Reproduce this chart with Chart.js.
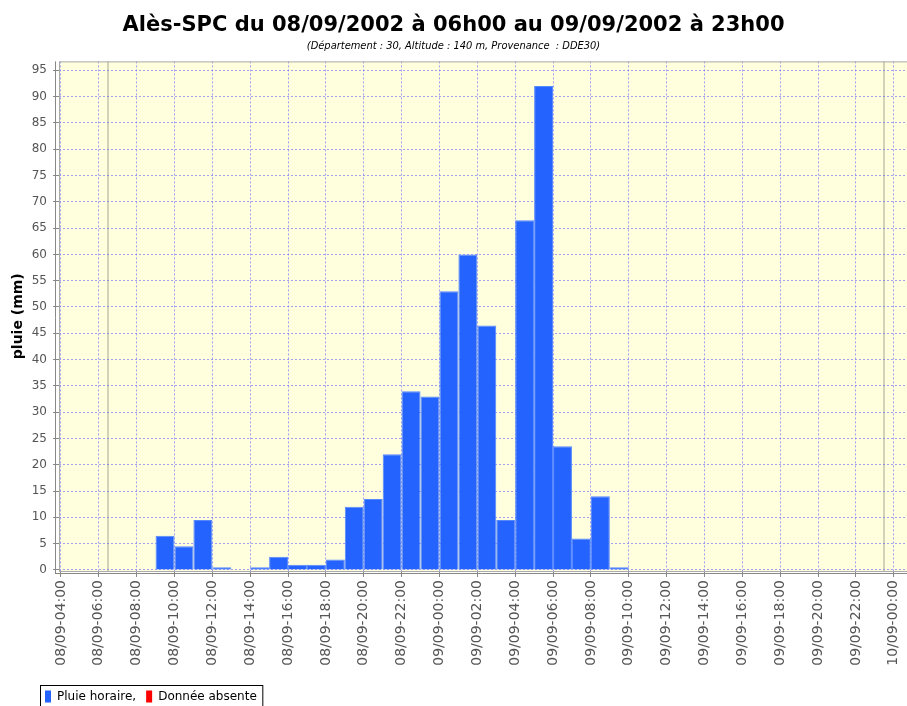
<!DOCTYPE html>
<html lang="fr">
<head>
<meta charset="utf-8">
<title>Pluie horaire Alès-SPC</title>
<script src="https://cdn.jsdelivr.net/npm/chart.js@4/dist/chart.umd.min.js"></script>
<style>
  html, body { margin: 0; padding: 0; background: #fff; }
  #wrap { width: 907px; height: 706px; position: relative; }
</style>
</head>
<body>
<div id="wrap"><canvas id="rainChart"></canvas></div>
<script>
// hourly rain, one bar per hour (start of the hour)
const hourLabels = [
  '08/09-06:00', '08/09-07:00', '08/09-08:00', '08/09-09:00', '08/09-10:00', '08/09-11:00',
  '08/09-12:00', '08/09-13:00', '08/09-14:00', '08/09-15:00', '08/09-16:00', '08/09-17:00',
  '08/09-18:00', '08/09-19:00', '08/09-20:00', '08/09-21:00', '08/09-22:00', '08/09-23:00',
  '09/09-00:00', '09/09-01:00', '09/09-02:00', '09/09-03:00', '09/09-04:00', '09/09-05:00',
  '09/09-06:00', '09/09-07:00', '09/09-08:00', '09/09-09:00', '09/09-10:00', '09/09-11:00',
  '09/09-12:00', '09/09-13:00', '09/09-14:00', '09/09-15:00', '09/09-16:00', '09/09-17:00',
  '09/09-18:00', '09/09-19:00', '09/09-20:00', '09/09-21:00', '09/09-22:00', '09/09-23:00'
];
const rainValues = [
  0, 0, 0, 6.5, 4.5, 9.5,
  0.5, 0, 0.5, 2.5, 1, 1,
  2, 12, 13.5, 22, 34, 33,
  53, 60, 46.5, 9.5, 66.5, 92,
  23.5, 6, 14, 0.5, 0, 0,
  0, 0, 0, 0, 0, 0,
  0, 0, 0, 0, 0, 0
];
const missingValues = [];

const xTickLabels = [
  '08/09-04:00', '08/09-06:00', '08/09-08:00', '08/09-10:00', '08/09-12:00', '08/09-14:00',
  '08/09-16:00', '08/09-18:00', '08/09-20:00', '08/09-22:00', '09/09-00:00', '09/09-02:00',
  '09/09-04:00', '09/09-06:00', '09/09-08:00', '09/09-10:00', '09/09-12:00', '09/09-14:00',
  '09/09-16:00', '09/09-18:00', '09/09-20:00', '09/09-22:00', '10/09-00:00'
];
const yTickValues = [0, 5, 10, 15, 20, 25, 30, 35, 40, 45, 50, 55, 60, 65, 70, 75, 80, 85, 90, 95];

// "dd/mm-HH:00" -> hours since 08/09 00:00
function toHours(label) {
  const [date, time] = label.split('-');
  const day = parseInt(date.slice(0, 2), 10);
  const hour = parseInt(time.slice(0, 2), 10);
  return (day - 8) * 24 + hour;
}

const BLUE = '#2563ff';
const RED = '#ff0000';
const GRID = 'rgba(110,110,255,0.65)';

const rainPoints = hourLabels.map((l, i) => ({ x: toHours(l) + 0.5, y: rainValues[i] }));
const periodMarks = [toHours(hourLabels[0]) + 0.5, toHours(hourLabels[hourLabels.length - 1]) + 0.5];
const xTickHours = xTickLabels.map(toHours);

Chart.defaults.font.family = "'DejaVu Sans', sans-serif";

// plot background, period markers, frame, axis lines and the boxed legend
const plotFrame = {
  id: 'plotFrame',
  beforeDraw(chart) {
    const { ctx, chartArea: a, scales: { x } } = chart;
    ctx.save();
    ctx.fillStyle = '#ffffde';
    ctx.fillRect(a.left, a.top, a.right - a.left, a.bottom - a.top);
    ctx.strokeStyle = '#d2d2b8';
    ctx.lineWidth = 2;
    periodMarks.forEach(v => {
      const px = Math.round(x.getPixelForValue(v));
      ctx.beginPath();
      ctx.moveTo(px, a.top);
      ctx.lineTo(px, a.bottom);
      ctx.stroke();
    });
    ctx.restore();
  },
  afterDraw(chart) {
    const { ctx, chartArea: a } = chart;
    ctx.save();
    ctx.lineWidth = 1;
    ctx.strokeStyle = '#aaaaaa';
    ctx.strokeRect(a.left + 0.5, a.top + 0.5, a.right - a.left, a.bottom - a.top);
    ctx.strokeStyle = '#888888';
    ctx.beginPath();
    ctx.moveTo(a.left - 3.5, a.top);
    ctx.lineTo(a.left - 3.5, a.bottom + 3);
    ctx.moveTo(a.left - 3, a.bottom + 2.5);
    ctx.lineTo(a.right, a.bottom + 2.5);
    ctx.stroke();

    // legend
    const lx = 40.5, ly = chart.height - 20.5;
    ctx.font = "12px 'DejaVu Sans', sans-serif";
    ctx.textBaseline = 'middle';
    let cx = 45;
    chart.data.datasets.forEach(ds => {
      ctx.fillStyle = ds.legendColor;
      ctx.fillRect(cx, ly + 5, 6, 12);
      ctx.fillStyle = '#000';
      ctx.fillText(ds.label, cx + 12, ly + 11);
      cx += 12 + ctx.measureText(ds.label).width + 10;
    });
    ctx.strokeStyle = '#000';
    ctx.strokeRect(lx, ly, cx - 10 - lx + 6, 24);
    ctx.restore();
  }
};

new Chart(document.getElementById('rainChart'), {
  type: 'bar',
  data: {
    datasets: [
      {
        label: 'Pluie horaire,',
        legendColor: BLUE,
        data: rainPoints,
        // dry hours draw nothing
        backgroundColor: c => (c.raw && c.raw.y ? BLUE : 'rgba(0,0,0,0)'),
        borderColor: '#5587ff',
        borderWidth: c => (c.raw && c.raw.y ? 1 : 0),
        inflateAmount: 0,
        barPercentage: 1,
        categoryPercentage: 1,
        grouped: false
      },
      {
        label: 'Donnée absente',
        legendColor: RED,
        data: missingValues,
        backgroundColor: RED,
        barPercentage: 1,
        categoryPercentage: 1,
        grouped: false
      }
    ]
  },
  options: {
    responsive: true,
    maintainAspectRatio: false,
    animation: false,
    layout: { padding: { top: 0, right: 0, bottom: 35, left: 0 } },
    plugins: {
      legend: { display: false },
      tooltip: { enabled: false },
      title: {
        display: true,
        text: 'Alès-SPC du 08/09/2002 à 06h00 au 09/09/2002 à 23h00',
        color: '#000',
        font: { size: 21, weight: 'bold' },
        padding: { top: 13, bottom: 0 }
      },
      subtitle: {
        display: true,
        text: '(Département : 30, Altitude : 140 m, Provenance  : DDE30)',
        color: '#000',
        font: { size: 11, style: 'italic', family: "'DejaVu Sans Condensed', 'DejaVu Sans', sans-serif" },
        padding: { top: 1, bottom: 9 }
      }
    },
    scales: {
      x: {
        type: 'linear',
        min: 3.9,
        max: 48.7,
        offset: false,
        afterBuildTicks: s => { s.ticks = xTickHours.map(v => ({ value: v })); },
        // the plot runs to the right edge, labels may overhang
        afterFit: s => { s.height = 100; s.paddingLeft = 0; s.paddingRight = 0; },
        ticks: {
          autoSkip: false,
          minRotation: 90,
          maxRotation: 90,
          padding: 3,
          color: '#555',
          font: { size: 14 },
          callback: (v, i) => xTickLabels[i]
        },
        grid: {
          offset: false,
          color: GRID,
          lineWidth: 1,
          tickColor: '#888',
          tickLength: 6
        },
        border: { display: false, dash: [2, 2] }
      },
      y: {
        min: -0.2,
        max: 96.7,
        afterBuildTicks: s => { s.ticks = yTickValues.map(v => ({ value: v })); },
        afterFit: s => { s.width = 59; },
        title: {
          display: true,
          text: 'pluie (mm)',
          color: '#000',
          font: { size: 14, weight: 'bold' },
          padding: { top: 10, bottom: 4 }
        },
        ticks: {
          padding: 6,
          color: '#555',
          font: { size: 12 }
        },
        grid: {
          color: GRID,
          lineWidth: 1,
          tickColor: '#888',
          tickLength: 6
        },
        border: { display: false, dash: [2, 2] }
      }
    }
  },
  plugins: [plotFrame]
});
</script>
</body>
</html>
